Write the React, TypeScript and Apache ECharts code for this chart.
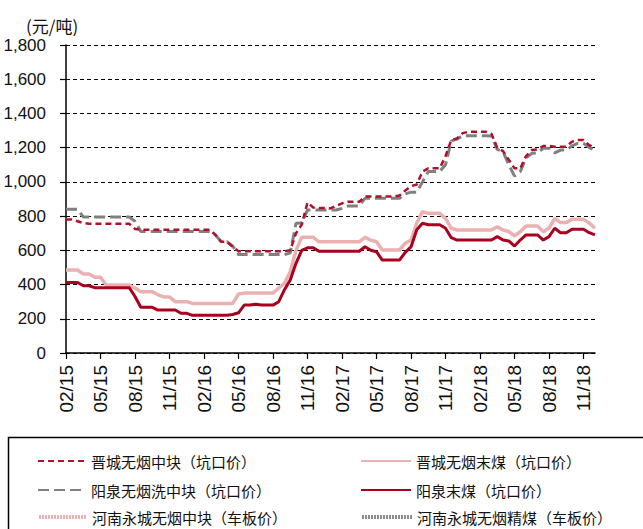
import React, { useEffect, useRef } from "react";
import * as echarts from "echarts";

const categories = [
  "2015-02-01","2015-02-16","2015-03-01","2015-03-16","2015-04-01","2015-04-16","2015-05-01","2015-05-16","2015-06-01","2015-06-16","2015-07-01","2015-07-16","2015-08-01","2015-08-16","2015-09-01","2015-09-16","2015-10-01","2015-10-16","2015-11-01","2015-11-16","2015-12-01","2015-12-16",
  "2016-01-01","2016-01-16","2016-02-01","2016-02-16","2016-03-01","2016-03-16","2016-04-01","2016-04-16","2016-05-01","2016-05-16","2016-06-01","2016-06-16","2016-07-01","2016-07-16","2016-08-01","2016-08-16","2016-09-01","2016-09-16","2016-10-01","2016-10-16","2016-11-01","2016-11-16","2016-12-01","2016-12-16",
  "2017-01-01","2017-01-16","2017-02-01","2017-02-16","2017-03-01","2017-03-16","2017-04-01","2017-04-16","2017-05-01","2017-05-16","2017-06-01","2017-06-16","2017-07-01","2017-07-16","2017-08-01","2017-08-16","2017-09-01","2017-09-16","2017-10-01","2017-10-16","2017-11-01","2017-11-16","2017-12-01","2017-12-16",
  "2018-01-01","2018-01-16","2018-02-01","2018-02-16","2018-03-01","2018-03-16","2018-04-01","2018-04-16","2018-05-01","2018-05-16","2018-06-01","2018-06-16","2018-07-01","2018-07-16","2018-08-01","2018-08-16","2018-09-01","2018-09-16","2018-10-01","2018-10-16","2018-11-01","2018-11-16","2018-12-01"
];

const jinchengLump = [
  780,780,770,760,755,755,755,755,755,755,755,755,725,720,720,720,720,720,720,720,720,720,720,720,720,720,
  690,650,650,620,595,595,595,595,595,595,595,595,595,600,700,750,880,850,848,848,845,860,875,884,884,884,
  914,914,914,914,914,914,920,950,975,985,1060,1079,1079,1079,1150,1245,1254,1285,1293,1293,1293,1293,1280,
  1200,1180,1130,1079,1079,1150,1186,1190,1210,1210,1205,1206,1206,1235,1245,1245,1215,1196
];

const yangquanWashedLump = [
  840,840,840,795,795,795,795,795,795,795,795,795,770,710,710,710,710,710,710,710,710,710,710,710,710,710,
  690,650,650,625,575,575,575,575,575,575,575,575,575,585,758,760,836,836,836,836,836,836,845,859,859,859,
  904,904,904,904,904,904,904,930,940,940,1000,1060,1060,1060,1100,1240,1250,1270,1270,1270,1270,1270,1268,
  1190,1177,1100,1034,1060,1140,1167,1170,1196,1196,1170,1186,1186,1210,1225,1225,1200,1186
];

const jinchengFines = [
  485,485,485,462,462,442,442,397,397,397,397,397,380,358,358,358,340,328,328,300,300,300,290,290,290,290,
  290,290,290,290,345,350,350,350,350,350,350,380,407,475,600,676,676,676,650,650,650,650,650,650,650,650,
  676,660,650,602,602,602,602,641,660,760,826,816,816,816,787,729,719,719,719,719,719,719,719,
  738,719,710,684,709,742,742,742,709,730,787,762,762,781,781,781,760,729
];

const yangquanFines = [
  412,412,412,393,393,382,382,382,382,382,382,382,330,267,267,267,251,251,251,251,232,232,220,220,220,220,
  220,220,220,225,235,280,280,285,280,280,280,300,370,427,524,600,615,615,595,595,595,595,595,595,595,595,
  621,600,592,543,543,543,543,588,620,720,758,750,750,750,729,674,660,660,660,660,660,660,660,
  680,660,655,625,660,690,690,690,660,680,729,703,703,723,723,723,703,690
];

const henanLump: number[] = [];
const henanWashed: number[] = [];

const seriesNames = [
  "晋城无烟中块（坑口价）",
  "晋城无烟末煤（坑口价）",
  "阳泉无烟洗中块（坑口价）",
  "阳泉末煤（坑口价）",
  "河南永城无烟中块（车板价）",
  "河南永城无烟精煤（车板价）",
];

const quarterMonths = ["02", "05", "08", "11"];
const isQuarterTick = (index: number, value: string) => {
  const v = String(value ?? categories[index]);
  const parts = v.split("-");
  return parts[2] === "01" && quarterMonths.indexOf(parts[1]) >= 0;
};

export default function App() {
  const ref = useRef<HTMLDivElement>(null);
  useEffect(() => {
    if (!ref.current) return;
    const chart = echarts.init(ref.current, null, { renderer: "svg" });
    const cjk = "'Noto Sans CJK SC', sans-serif";
    const num = "'Liberation Sans', Arial, sans-serif";
    const legendText = { fontFamily: cjk, fontSize: 15, color: "#111", lineHeight: 20 };
    const legendPos = [
      { left: 32, top: 446, w: 48 },
      { left: 355, top: 446, w: 50 },
      { left: 32, top: 475, w: 48 },
      { left: 355, top: 475, w: 50 },
      { left: 32, top: 502, w: 48 },
      { left: 355, top: 502, w: 50 },
    ];
    const legends = seriesNames.map((name, i) => {
      const l: any = {
        orient: "horizontal",
        left: legendPos[i].left,
        top: legendPos[i].top,
        itemWidth: legendPos[i].w,
        itemHeight: 14,
        itemStyle: { opacity: 0 },
        textStyle: legendText,
        data: [name],
      };
      if (i >= 4) l.lineStyle = { width: 4, type: [2, 1] };
      return l;
    });
    chart.setOption({
      animation: false,
      backgroundColor: "#fff",
      grid: { left: 66, top: 45, right: 48, bottom: 176, containLabel: false },
      title: {
        text: "(元/吨)",
        left: 21,
        top: 12,
        textStyle: { fontFamily: cjk, fontSize: 17, fontWeight: "normal", color: "#111" },
      },
      legend: legends,
      graphic: [
        {
          type: "rect",
          shape: { x: 8.5, y: 437.5, width: 700, height: 120 },
          style: { fill: "none", stroke: "#000", lineWidth: 1.5 },
          silent: true,
        },
      ],
      xAxis: {
        type: "category",
        data: categories,
        boundaryGap: false,
        axisLine: { lineStyle: { color: "#000", width: 1.5 } },
        axisTick: { interval: isQuarterTick, length: 6, lineStyle: { color: "#000", width: 1.2 } },
        axisLabel: {
          interval: isQuarterTick,
          rotate: 90,
          margin: 12,
          fontFamily: num,
          fontSize: 19,
          color: "#111",
          formatter: (v: string) => {
            const p = v.split("-");
            return p[1] + "/" + p[0].slice(2);
          },
        },
        splitLine: { show: false },
      },
      yAxis: {
        type: "value",
        min: 0,
        max: 1800,
        interval: 200,
        axisLine: { show: true, lineStyle: { color: "#000", width: 1.5 } },
        axisTick: { show: true, length: 6, lineStyle: { color: "#000", width: 1.2 } },
        axisLabel: {
          margin: 20,
          fontFamily: num,
          fontSize: 17,
          color: "#111",
          formatter: (v: number) => v.toLocaleString("en-US"),
        },
        splitLine: { show: true, lineStyle: { color: "#000", width: 1.2, type: [4, 3] } },
      },
      series: [
        {
          name: seriesNames[1],
          type: "line",
          data: jinchengFines,
          symbol: "none",
          showSymbol: false,
          lineStyle: { color: "#EBB1B1", width: 3.5 },
          itemStyle: { color: "#EBB1B1" },
          z: 2,
        },
        {
          name: seriesNames[3],
          type: "line",
          data: yangquanFines,
          symbol: "none",
          showSymbol: false,
          lineStyle: { color: "#A8001E", width: 3 },
          itemStyle: { color: "#A8001E" },
          z: 3,
        },
        {
          name: seriesNames[2],
          type: "line",
          data: yangquanWashedLump,
          symbol: "none",
          showSymbol: false,
          lineStyle: { color: "#808080", width: 3, type: [11, 5] },
          itemStyle: { color: "#808080" },
          z: 4,
        },
        {
          name: seriesNames[0],
          type: "line",
          data: jinchengLump,
          symbol: "none",
          showSymbol: false,
          lineStyle: { color: "#B0102A", width: 2.5, type: [6, 4] },
          itemStyle: { color: "#B0102A" },
          z: 5,
        },
        {
          name: seriesNames[4],
          type: "line",
          data: henanLump,
          symbol: "none",
          showSymbol: false,
          lineStyle: { color: "#EBB1B1", width: 4, type: [2, 1] },
          itemStyle: { color: "#EBB1B1" },
        },
        {
          name: seriesNames[5],
          type: "line",
          data: henanWashed,
          symbol: "none",
          showSymbol: false,
          lineStyle: { color: "#8C8C8C", width: 4, type: [2, 1] },
          itemStyle: { color: "#8C8C8C" },
        },
      ],
    });
    return () => chart.dispose();
  }, []);
  return (
    <div
      ref={ref}
      style={{ position: "fixed", left: 0, top: 0, width: 643, height: 529 }}
    />
  );
}
